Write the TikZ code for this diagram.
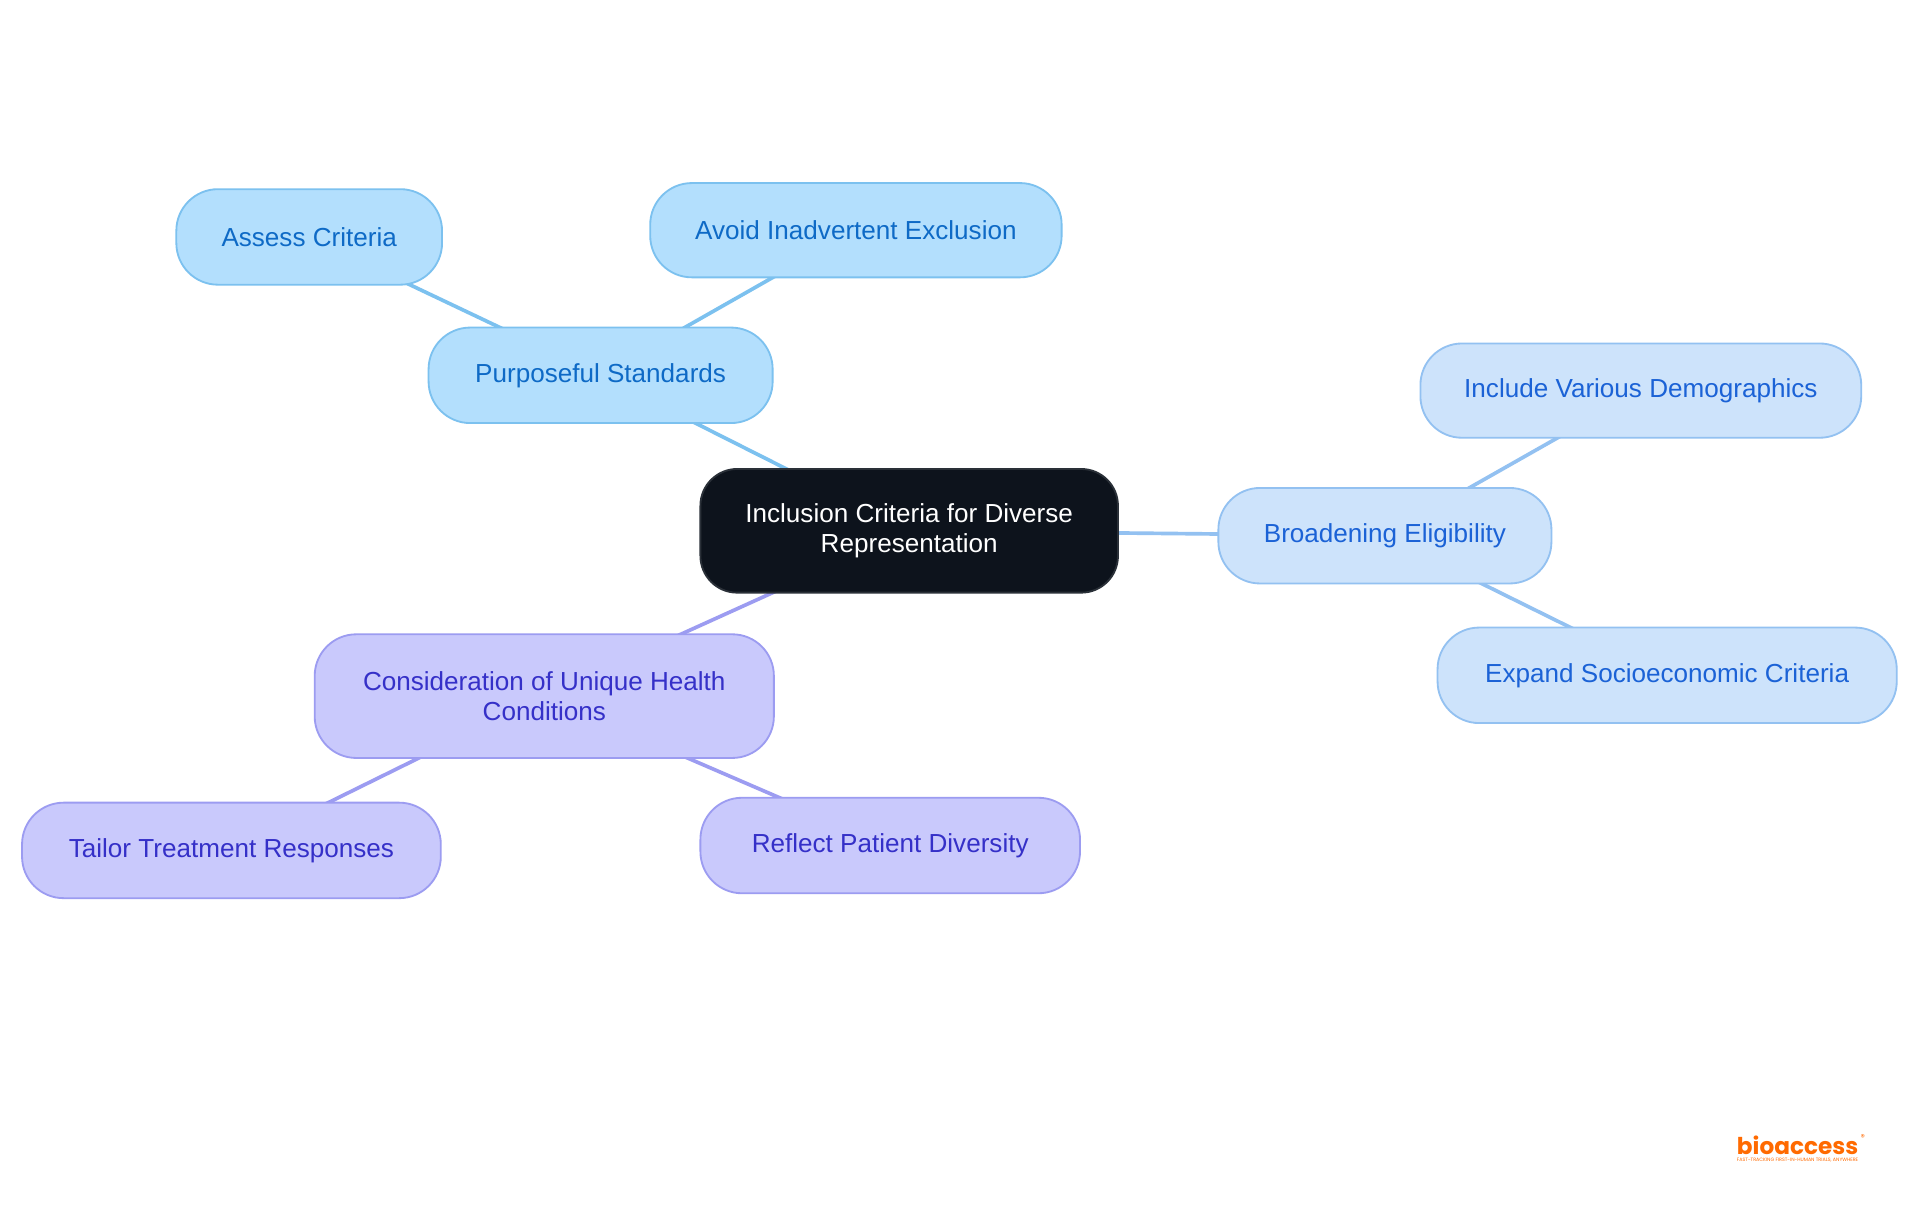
\documentclass[tikz,border=0pt]{standalone}
\usepackage{fontspec}
\setmainfont{Liberation Sans}
\newfontfamily\logofont{Poppins}
\usetikzlibrary{backgrounds}
\definecolor{rootfill}{HTML}{0D131C}
\definecolor{rootdraw}{HTML}{2A3038}
\definecolor{afill}{HTML}{B3DFFD}
\definecolor{adraw}{HTML}{7CC1EF}
\definecolor{atext}{HTML}{0E6AC6}
\definecolor{bfill}{HTML}{CDE3FB}
\definecolor{bdraw}{HTML}{93C1F1}
\definecolor{btext}{HTML}{1B62D6}
\definecolor{cfill}{HTML}{C9C9FC}
\definecolor{cdraw}{HTML}{9C9CF1}
\definecolor{ctext}{HTML}{3530C8}
\definecolor{logoorange}{HTML}{FF6A00}
\tikzset{
  box/.style={rectangle, rounded corners=34pt, line width=1.5pt, align=center,
    inner sep=0pt, font=\fontsize{21.3}{24}\selectfont},
  rootbox/.style={box, rounded corners=30pt, fill=rootfill, draw=rootdraw, text=white},
  abox/.style={box, fill=afill, draw=adraw, text=atext},
  bbox/.style={box, fill=bfill, draw=bdraw, text=btext},
  cbox/.style={box, fill=cfill, draw=cdraw, text=ctext},
  link/.style={line width=3pt},
}
\begin{document}
\begin{tikzpicture}[x=1pt,y=-1pt]
\useasboundingbox (0,0) rectangle (1568,992.25);

\node[rootbox, minimum width=341pt, minimum height=101pt] (root) at (742.5,433.5) {Inclusion Criteria for Diverse\\Representation};

\node[abox, minimum width=281pt, minimum height=78pt] (ps) at (490.5,306.5) {Purposeful Standards};
\node[abox, minimum width=217pt, minimum height=78pt] (ac) at (252.5,193.5) {Assess Criteria};
\node[abox, minimum width=336pt, minimum height=77pt] (ai) at (699,188) {Avoid Inadvertent Exclusion};

\node[bbox, minimum width=272pt, minimum height=78pt] (be) at (1131,437.5) {Broadening Eligibility};
\node[bbox, minimum width=360pt, minimum height=77pt] (iv) at (1340,319) {Include Various Demographics};
\node[bbox, minimum width=375pt, minimum height=78pt] (es) at (1361.5,551.5) {Expand Socioeconomic Criteria};

\node[cbox, minimum width=375pt, minimum height=101pt] (cu) at (444.5,568.5) {Consideration of Unique Health\\Conditions};
\node[cbox, minimum width=342pt, minimum height=78pt] (tt) at (189,694.5) {Tailor Treatment Responses};
\node[cbox, minimum width=310pt, minimum height=78pt] (rp) at (727,690.5) {Reflect Patient Diversity};

\begin{scope}[on background layer]
\fill[white] (0,0) rectangle (1568,992.25);
\draw[link, adraw] (root.center) -- (ps.center);
\draw[link, adraw] (ps.center) -- (ac.center);
\draw[link, adraw] (ps.center) -- (ai.center);
\draw[link, bdraw] (root.center) -- (be.center);
\draw[link, bdraw] (be.center) -- (iv.center);
\draw[link, bdraw] (be.center) -- (es.center);
\draw[link, cdraw] (root.center) -- (cu.center);
\draw[link, cdraw] (cu.center) -- (tt.center);
\draw[link, cdraw] (cu.center) -- (rp.center);
\end{scope}

\node[inner sep=0pt, text=logoorange] (logo) at (1468,935)
  {\resizebox{99pt}{!}{\logofont\bfseries bioaccess}};
\node[inner sep=0pt, text=logoorange, anchor=north west] (reg) at ([xshift=1.5pt,yshift=1pt]logo.north east)
  {\logofont\fontsize{7}{7}\selectfont ®};
\node[inner sep=0pt, text=logoorange, anchor=north] (tag) at ([yshift=-3pt]logo.south)
  {\resizebox{99pt}{!}{\logofont FAST-TRACKING FIRST-IN-HUMAN TRIALS, ANYWHERE}};
\end{tikzpicture}
\end{document}
